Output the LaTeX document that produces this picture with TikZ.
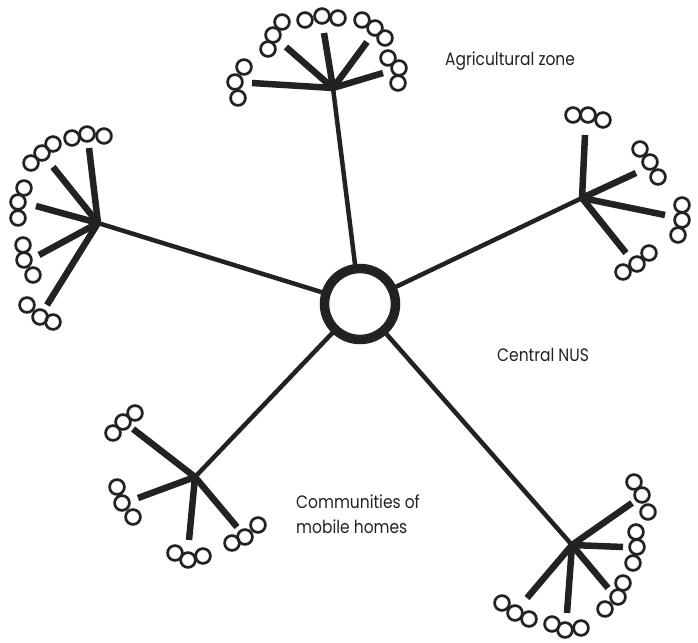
\documentclass[tikz,border=0pt]{standalone}
\usepackage{fontspec}
\setmainfont{Poppins}[FakeStretch=0.86]
\definecolor{inkc}{RGB}{35,33,34}
\begin{document}
\begin{tikzpicture}[x=1pt,y=-1pt,
  mainspoke/.style={draw=inkc,line width=4.5pt},
  subspoke/.style={draw=inkc,line width=6.5pt},
  bead/.style={circle,draw=inkc,line width=2.7pt,minimum size=14.8pt,inner sep=0pt},
  hubring/.style={circle,draw=inkc,line width=9.5pt,minimum size=71pt,fill=white,inner sep=0pt},
  lbl/.style={font=\fontsize{18}{25}\selectfont,text=inkc,inner sep=0pt,anchor=base west,align=left}]
\useasboundingbox (0,0) rectangle (698,642);
% centre and hubs
\coordinate (C) at (360,304);
\coordinate (T) at (333,88);
\coordinate (L) at (98,223);
\coordinate (R) at (582,198);
\coordinate (BL) at (195,477);
\coordinate (BR) at (572,545);
\foreach \h in {T,L,R,BL,BR} \draw[mainspoke] (C) -- (\h);
% sub spokes
\foreach \i/\x/\y in {1/252/83,2/286/47,3/324/33,4/367/42,5/383/73}
  {\coordinate (T\i) at (\x,\y); \draw[subspoke] (T) -- (T\i);}
\foreach \i/\x/\y in {1/89/148,2/53/167,3/36/206,4/39/255,5/47/305}
  {\coordinate (L\i) at (\x,\y); \draw[subspoke] (L) -- (L\i);}
\foreach \i/\x/\y in {1/585/135,2/636/173,3/665/215,4/626/253}
  {\coordinate (R\i) at (\x,\y); \draw[subspoke] (R) -- (R\i);}
\foreach \i/\x/\y in {1/133/429,2/138/498,3/189/540,4/237/527}
  {\coordinate (BL\i) at (\x,\y); \draw[subspoke] (BL) -- (BL\i);}
\foreach \i/\x/\y in {1/632/503,2/623/547,3/608/588,4/567/613,5/527/598}
  {\coordinate (BR\i) at (\x,\y); \draw[subspoke] (BR) -- (BR\i);}
% central ring
\node[hubring] (nus) at (C) {};
% beads
\foreach \x/\y [count=\k] in {
  244/67,235/82,238/98, 282/22,273/35,268/49, 305/20,322/16,338/18,
  362/20,375/28,385/38, 388/58,399/68,398/83,
  72/138,87/134,104/136, 31/163,42/153,53/144, 24/188,18/202,18/218,
  23/245,24/260,33/275, 27/305,40/317,53/322,
  573/115,588/115,603/120, 640/149,650/162,658/177, 682/205,682/220,678/235,
  623/272,637/264,649/253,
  113/433,123/422,135/413, 117/487,122/503,133/517, 175/553,188/560,203/556,
  232/543,245/537,258/525,
  634/482,642/495,648/512, 636/532,637/547,633/563, 623/583,618/597,605/609,
  552/624,565/630,581/628, 502/603,515/613,529/619}
  \node[bead] (b\k) at (\x,\y) {};
% labels
\node[lbl] (agri) at (445,66) {Agricultural zone};
\node[lbl] (central) at (497,361) {Central NUS};
\node[lbl] (comm) at (296,533) {Communities of\\mobile homes};
\end{tikzpicture}
\end{document}
